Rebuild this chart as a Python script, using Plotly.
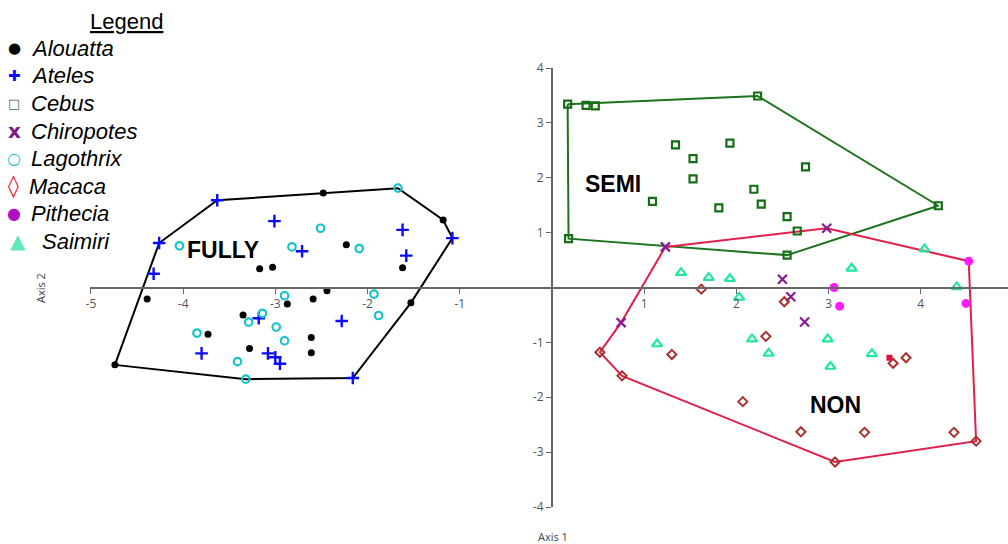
import plotly.graph_objects as go

# ---- species scores on the first two axes ----
alouatta_x = [-4.74, -2.48, -3.17, -3.03, -4.39, -2.87, -2.59, -2.44, -3.35, -3.73,
              -3.28, -2.61, -2.61, -2.23, -1.62, -1.18, -1.53]
alouatta_y = [-1.41, 1.72, 0.34, 0.37, -0.21, -0.30, -0.21, -0.06, -0.50, -0.85,
              -1.11, -0.91, -1.19, 0.78, 0.36, 1.23, -0.28]

ateles_x = [-3.63, -4.26, -4.32, -3.01, -2.71, -3.18, -3.80, -3.08, -3.00, -2.95,
            -1.62, -1.58, -1.08, -2.28, -2.16]
ateles_y = [1.59, 0.81, 0.25, 1.21, 0.66, -0.56, -1.20, -1.20, -1.27, -1.39,
            1.05, 0.58, 0.90, -0.61, -1.65]

cebus_x = [0.17, 0.37, 0.47, 0.18, 1.34, 1.53, 1.53, 1.09, 1.93, 1.81,
           2.19, 2.23, 2.75, 2.27, 2.55, 2.66, 4.19, 2.55]
cebus_y = [3.34, 3.32, 3.31, 0.89, 2.60, 2.35, 1.98, 1.57, 2.63, 1.45,
           1.79, 3.49, 2.20, 1.52, 1.29, 1.03, 1.49, 0.59]

chiropotes_x = [1.23, 0.75, 2.98, 2.50, 2.59, 2.74]
chiropotes_y = [0.74, -0.64, 1.08, 0.15, -0.17, -0.63]

lagothrix_x = [-4.04, -2.51, -2.82, -2.90, -3.14, -3.29, -2.99, -3.85, -2.90, -3.41,
               -3.32, -1.67, -2.09, -1.93, -1.88]
lagothrix_y = [0.76, 1.08, 0.74, -0.15, -0.47, -0.63, -0.72, -0.83, -0.97, -1.35,
               -1.67, 1.81, 0.71, -0.12, -0.51]

macaca_x = [1.62, 0.52, 0.76, 1.30, 2.07, 2.32, 2.52, 3.70, 3.84, 2.70,
            3.39, 4.36, 4.60, 3.07]
macaca_y = [-0.03, -1.18, -1.61, -1.22, -2.08, -0.89, -0.26, -1.38, -1.28, -2.63,
            -2.64, -2.64, -2.80, -3.18]

pithecia_x = [3.06, 3.12, 4.52, 4.49]
pithecia_y = [0.00, -0.34, 0.48, -0.29]

saimiri_x = [1.40, 1.70, 1.93, 2.03, 1.14, 2.17, 2.35, 2.99, 3.47, 3.02,
             3.25, 4.04, 4.39]
saimiri_y = [0.27, 0.18, 0.16, -0.18, -1.03, -0.94, -1.20, -0.94, -1.21, -1.44,
             0.35, 0.70, 0.01]

marked_x = [3.66]
marked_y = [-1.28]

# ---- convex hulls of the locomotor groups ----
fully_hull_x = [-4.74, -4.26, -3.63, -2.48, -1.67, -1.18, -1.08, -1.53, -2.16, -3.32, -4.74]
fully_hull_y = [-1.41, 0.81, 1.59, 1.72, 1.81, 1.23, 0.90, -0.28, -1.65, -1.67, -1.41]

semi_hull_x = [0.17, 2.23, 4.19, 2.55, 0.18, 0.17]
semi_hull_y = [3.34, 3.49, 1.49, 0.59, 0.89, 3.34]

non_hull_x = [1.23, 2.98, 4.52, 4.60, 3.07, 0.76, 0.52, 0.75, 1.23]
non_hull_y = [0.74, 1.08, 0.48, -2.80, -3.18, -1.61, -1.18, -0.64, 0.74]

group_labels = ["FULLY", "SEMI", "NON"]
group_label_x = [-3.57, 0.66, 3.07]
group_label_y = [0.68, 1.885, -2.14]

x_ticks = [-5, -4, -3, -2, -1, 1, 2, 3, 4]
y_ticks = [-4, -3, -2, -1, 1, 2, 3, 4]

species = ["Alouatta", "Ateles", "Cebus", "Chiropotes", "Lagothrix", "Macaca", "Pithecia", "Saimiri"]

# ---- figure geometry ----
W, H = 1008, 544
ML, MR, MT, MB = 90, 0, 68, 37
X_RANGE = [-5.01, 4.946]
Y_RANGE = [-4, 4]

fig = go.Figure()

hull_style = [
    (fully_hull_x, fully_hull_y, "#000000"),
    (semi_hull_x, semi_hull_y, "#1b741b"),
    (non_hull_x, non_hull_y, "#e0204a"),
]
for hx, hy, col in hull_style:
    fig.add_trace(go.Scatter(x=hx, y=hy, mode="lines",
                             line=dict(color=col, width=2), hoverinfo="skip", showlegend=False))


def open_marker(symbol, size, col, width):
    return dict(symbol=symbol, size=size, color=col, line=dict(color=col, width=width))


series = [
    (alouatta_x, alouatta_y, dict(symbol="circle", size=7, color="#000000", line=dict(width=0))),
    (ateles_x, ateles_y, open_marker("cross-thin-open", 9, "#0b0bff", 2.4)),
    (cebus_x, cebus_y, open_marker("square-open", 7, "#156e15", 2.2)),
    (chiropotes_x, chiropotes_y, open_marker("x-thin-open", 9, "#8a1a96", 2.2)),
    (lagothrix_x, lagothrix_y, open_marker("circle-open", 7.5, "#19c3cc", 2.2)),
    (macaca_x, macaca_y, open_marker("diamond-open", 7, "#a8322e", 2)),
    (pithecia_x, pithecia_y, dict(symbol="circle", size=9, color="#ff1aff", line=dict(width=0))),
    (saimiri_x, saimiri_y, open_marker("triangle-up-open", 9, "#22e89c", 2.2)),
    (marked_x, marked_y, dict(symbol="square", size=6, color="#e0103a", line=dict(width=0))),
]
for (sx, sy, mk), name in zip(series, species + ["marked"]):
    fig.add_trace(go.Scatter(x=sx, y=sy, mode="markers", marker=mk, name=name, showlegend=False))

# group names
for t, gx, gy in zip(group_labels, group_label_x, group_label_y):
    fig.add_annotation(x=gx, y=gy, text=f"<b>{t}</b>", showarrow=False,
                       xanchor="center", yanchor="middle",
                       font=dict(family="Liberation Sans, Arial", size=23, color="#000000"))


def paper(px, py):
    """Pixel position in the page -> paper coordinates."""
    return (px - ML) / (W - ML - MR), (H - MB - py) / (H - MT - MB)


def note(px, py, text, font, xanchor="center", **kw):
    x, y = paper(px, py)
    fig.add_annotation(x=x, y=y, xref="paper", yref="paper", text=text, showarrow=False,
                       xanchor=xanchor, yanchor="middle", font=font, **kw)


# legend block
note(126, 21, "<u>Legend</u>", dict(family="Liberation Sans, Arial", size=22, color="#000000"))

legend_glyphs = [
    ("●", "#000000", 15, 14),
    ("✚", "#0b0bff", 15, 14),
    ("□", "#4a6a4a", 13, 14),
    ("<b>x</b>", "#7a1a86", 20, 14),
    ("○", "#19c3cc", 16, 14),
    ("◊", "#e8203a", 22, 13),
    ("●", "#b010c0", 16, 14),
    ("▲", "#5fe8b8", 20, 18),
]
legend_text_x = [29, 29, 29, 29, 29, 27, 29, 40]
row_y = [48, 76, 103, 131, 158, 186, 213, 241]
for (g, col, fs, gx), name, tx, ry in zip(legend_glyphs, species, legend_text_x, row_y):
    note(gx, ry, g, dict(family="DejaVu Sans", size=fs, color=col))
    note(tx, ry, f"<i>{name}</i>", dict(family="Liberation Sans, Arial", size=22, color="#000000"),
         xanchor="left")

# axis titles
note(553, 536, "Axis 1", dict(family="Open Sans", size=11, color="#444444"))
note(40, 288, "Axis 2", dict(family="Open Sans", size=11, color="#444444"), textangle=-90)

# axes crossing at the origin
x_pos = (0 - Y_RANGE[0]) / (Y_RANGE[1] - Y_RANGE[0])
y_pos = (0 - X_RANGE[0]) / (X_RANGE[1] - X_RANGE[0])
tick_font = dict(family="Open Sans", size=12, color="#555555")
fig.update_layout(
    width=W, height=H,
    margin=dict(l=ML, r=MR, t=MT, b=MB),
    paper_bgcolor="white", plot_bgcolor="white",
    showlegend=False,
    xaxis=dict(range=X_RANGE, anchor="free", position=x_pos, showgrid=False, zeroline=False,
               showline=True, linecolor="#666666", linewidth=2,
               ticks="outside", ticklen=5, tickwidth=1, tickcolor="#666666",
               tickvals=x_ticks, ticktext=[str(v) for v in x_ticks], tickfont=tick_font),
    yaxis=dict(range=Y_RANGE, anchor="free", position=y_pos, showgrid=False, zeroline=False,
               showline=True, linecolor="#666666", linewidth=2,
               ticks="outside", ticklen=5, tickwidth=1, tickcolor="#666666",
               tickvals=y_ticks, ticktext=[str(v) for v in y_ticks], tickfont=tick_font),
)

fig.write_html("out.html")
